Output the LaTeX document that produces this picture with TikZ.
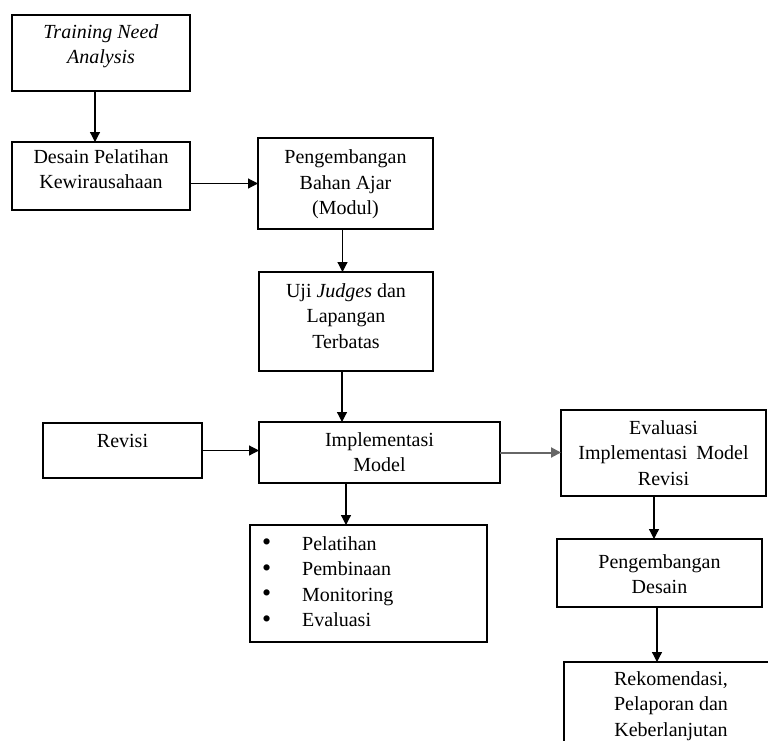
\documentclass[tikz,border=0pt]{standalone}
\usepackage{fontspec}
\setmainfont{Liberation Serif}
\usetikzlibrary{arrows.meta}
\newcommand{\mybul}{\makebox[40pt][l]{\raisebox{-0.5pt}{\scalebox{1.3}{•}}}}
\begin{document}
\begin{tikzpicture}[x=1pt,y=-1pt,
 box/.style={draw, line width=1.2pt, rectangle, anchor=north west, outer sep=0pt, inner sep=0pt},
 txt/.style={anchor=north, align=center, inner sep=0pt, font=\fontsize{20}{25.5}\selectfont},
 arr/.style={line width=1.2pt, -{Triangle[length=10pt,width=10pt]}},
 garr/.style={line width=2pt, black!60, -{Triangle[length=10pt,width=10pt]}}]
\useasboundingbox (0,0) rectangle (768,740);
\clip (0,0) rectangle (768,740);
% boxes
\node[box, minimum width=178pt, minimum height=76pt] (A) at (12,15) {};
\node[box, minimum width=178pt, minimum height=68pt] (B) at (12,142) {};
\node[box, minimum width=175pt, minimum height=91pt] (C) at (258,138) {};
\node[box, minimum width=174pt, minimum height=99pt] (D) at (259,272) {};
\node[box, minimum width=241pt, minimum height=61pt] (E) at (259,422) {};
\node[box, minimum width=159pt, minimum height=55pt] (R) at (43,423) {};
\node[box, minimum width=237pt, minimum height=117pt] (L) at (250,525) {};
\node[box, minimum width=205pt, minimum height=86pt] (F) at (561,410) {};
\node[box, minimum width=205pt, minimum height=68pt] (G) at (557,539) {};
\node[box, minimum width=216pt, minimum height=90pt] (H) at (564,662) {};
% texts
\node[txt] (tA) at (101,20) {\strut\textit{Training Need}\\\textit{Analysis}};
\node[txt] (tB) at (101,145) {\strut Desain Pelatihan\\Kewirausahaan};
\node[txt] (tC) at (345.5,145.5) {\strut Pengembangan\\Bahan Ajar\\(Modul)};
\node[txt] (tD) at (346,279) {\strut Uji \textit{Judges} dan\\Lapangan\\Terbatas};
\node[txt] (tE) at (379.5,428) {\strut Implementasi\\Model};
\node[txt] (tR) at (122.5,429) {\strut Revisi};
\node[txt] (tF) at (663.5,416) {\strut Evaluasi\\Implementasi\hspace{4pt} Model\\Revisi};
\node[txt] (tG) at (659.5,550) {\strut Pengembangan\\Desain};
\node[txt] (tH) at (671,667) {\strut Rekomendasi,\\Pelaporan dan\\Keberlanjutan};
\node[txt, anchor=north west, align=left] (tL) at (262,532)
 {\strut\mybul Pelatihan\\\mybul Pembinaan\\\mybul Monitoring\\\mybul Evaluasi};
% connectors
\draw[arr] ([xshift=-6pt]A.south) -- ([xshift=-6pt]A.south |- B.north);
\draw[arr] (B.east |- C.west) -- (C.west);
\draw[arr] ([xshift=-3pt]C.south) -- ([xshift=-3pt]C.south |- D.north);
\draw[arr] ([xshift=-4pt]D.south) -- ([xshift=-4pt]D.south |- E.north);
\draw[arr] ([xshift=-33.5pt]E.south) -- ([xshift=-33.5pt]E.south |- L.north);
\draw[arr] (R.east) -- (R.east -| E.west);
\draw[garr] (E.east) -- (E.east -| F.west);
\draw[arr] ([xshift=-9.5pt]F.south) -- ([xshift=-9.5pt]F.south |- G.north);
\draw[arr] ([xshift=-2.5pt]G.south) -- ([xshift=-2.5pt]G.south |- H.north);
\end{tikzpicture}
\end{document}
